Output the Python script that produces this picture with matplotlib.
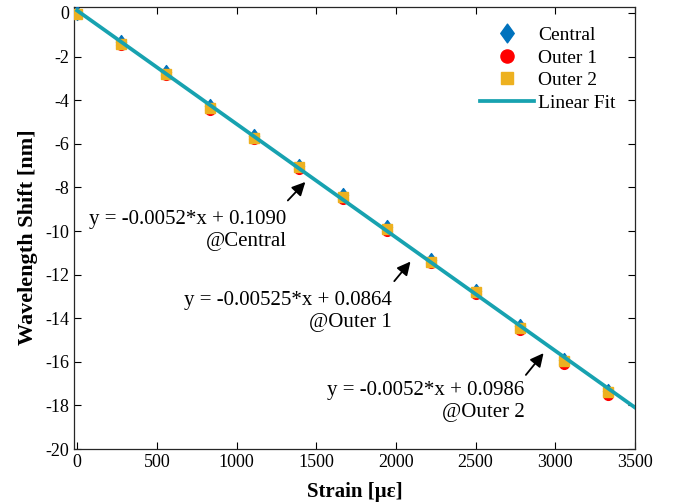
import matplotlib
matplotlib.use('Agg')
from matplotlib import pyplot as plt
from matplotlib.path import Path
import numpy as np

plt.rcParams['font.family'] = ['Liberation Serif', 'DejaVu Serif']
plt.rcParams['axes.unicode_minus'] = False

strain = [0, 278, 556, 833, 1111, 1389, 1667, 1944, 2222, 2500, 2778, 3056, 3333]
central = [0.02, -1.35, -2.7, -4.28, -5.64, -7.0, -8.37, -9.82, -11.32, -12.74, -14.35, -15.9, -17.32]
outer1 = [-0.07, -1.48, -2.85, -4.43, -5.8, -7.16, -8.53, -9.98, -11.48, -12.9, -14.55, -16.1, -17.5]
outer2 = [-0.03, -1.42, -2.78, -4.35, -5.72, -7.08, -8.45, -9.9, -11.4, -12.82, -14.43, -15.98, -17.4]

fit_slope = -0.0052
fit_intercept = 0.1090
fit_x = [0, 3500]

fit_labels = ['y = -0.0052*x + 0.1090\n@Central',
              'y = -0.00525*x + 0.0864\n@Outer 1',
              'y = -0.0052*x + 0.0986\n@Outer 2']
label_pos = [(1313, -9.05), (1972, -12.75), (2808, -16.9)]
arrow_tail = [(1322, -8.6), (1990, -12.3), (2816, -16.6)]
arrow_head = [(1432, -7.75), (2092, -11.4), (2927, -15.6)]

# MATLAB style diamond, a bit wider than matplotlib's 'd'
diamond = Path([(0, 1), (0.72, 0), (0, -1), (-0.72, 0), (0, 1)],
               [Path.MOVETO, Path.LINETO, Path.LINETO, Path.LINETO, Path.CLOSEPOLY])

fig = plt.figure(figsize=(6.79, 5.04), dpi=100)
ax = fig.add_axes([0.109, 0.109, 0.826, 0.877])

ax.plot(strain, central, marker=diamond, ls='none', color='#0072BD', markersize=10, label='Central', zorder=3)
ax.plot(strain, outer1, 'o', color='#FF0000', markersize=7, label='Outer 1', zorder=4)
ax.plot(strain, outer2, 's', color='#EDB120', markersize=6.5, label='Outer 2', zorder=5)
fx = np.array(fit_x)
ax.plot(fx, fit_slope * fx + fit_intercept, '-', color='#17A2B0', lw=2.7, label='Linear Fit', zorder=6)

for txt, pos, tail, head in zip(fit_labels, label_pos, arrow_tail, arrow_head):
    ax.text(pos[0], pos[1], txt, ha='right', va='top', multialignment='right',
            fontsize=15, linespacing=1.2)
    ax.annotate('', xy=head, xytext=tail,
                arrowprops=dict(arrowstyle='-|>', color='k', lw=1.3, mutation_scale=20,
                                shrinkA=0, shrinkB=0))

ax.set_xlim(-20, 3500)
ax.set_ylim(-20, 0.27)
ax.set_xticks(np.arange(0, 3501, 500))
ax.set_yticks(np.arange(-20, 1, 2))
ax.tick_params(direction='in', top=True, right=True, labelsize=13, length=5, width=0.8)
for sp in ax.spines.values():
    sp.set_linewidth(0.9)
    sp.set_color('#262626')

ax.set_xlabel('Strain [\u03bc\u03b5]', fontsize=15, fontweight='bold')
ax.set_ylabel('Wavelength Shift [nm]', fontsize=16, fontweight='bold')
ax.xaxis.set_label_coords(0.5, -0.075)
ax.yaxis.set_label_coords(-0.064, 0.48)

leg = ax.legend(loc='upper right', frameon=False, fontsize=14, handlelength=2.8,
                handletextpad=0.2, labelspacing=0.25, borderaxespad=0.6, markerscale=1.35)

fig.savefig('out.png', dpi=100)
